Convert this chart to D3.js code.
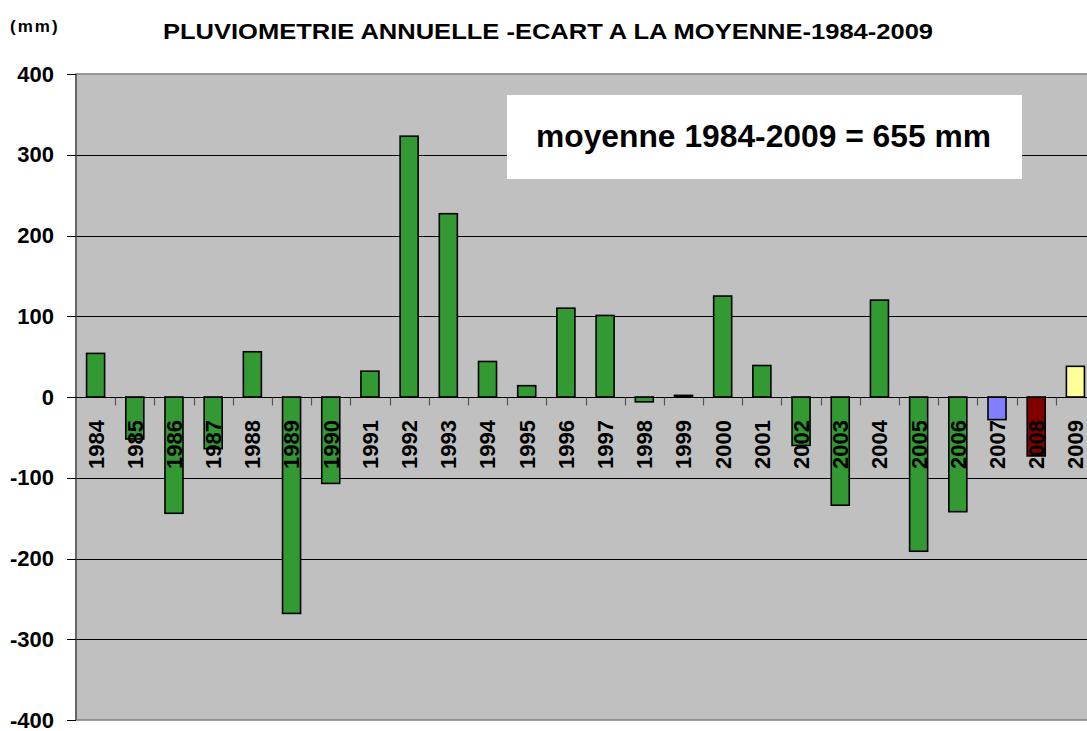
<!DOCTYPE html>
<meta charset="utf-8">
<style>
body { margin: 0; background: #fff; }
svg { display: block; font-family: "Liberation Sans", Arial, sans-serif; font-weight: bold; }
.grid line { stroke: #000; stroke-width: 1; shape-rendering: crispEdges; }
.y.axis path { display: none; }
.y.axis line { stroke: #000; shape-rendering: crispEdges; }
.y.axis text { font-size: 22px; font-weight: bold; fill: #000; }
.x.axis path, .x.axis line { display: none; }
.x.axis text { font-size: 22px; font-weight: bold; fill: #000; }
.bar { stroke: #000; stroke-width: 1.6; }
</style>
<body>
<script src="https://d3js.org/d3.v7.min.js"></script>
<script>
// data
var years = ["1984","1985","1986","1987","1988","1989","1990","1991","1992","1993",
             "1994","1995","1996","1997","1998","1999","2000","2001","2002","2003",
             "2004","2005","2006","2007","2008","2009"];
var ecart = [54, -52, -144, -64, 56, -268, -107, 32, 323, 227,
             44, 14, 110, 101, -6, 2, 125, 39, -60, -134,
             120, -191, -142, -28, -73, 38];
var yTicks = [-400, -300, -200, -100, 0, 100, 200, 300, 400];
var title = "PLUVIOMETRIE ANNUELLE -ECART A LA MOYENNE-1984-2009";
var unitLabel = "(mm)";
var noteText = "moyenne 1984-2009 = 655 mm";

// bar colours (last three years highlighted)
var colorFor = { "2007": "#8080ff", "2008": "#800000", "2009": "#ffff99" };
var defaultColor = "#339933";

var width = 1087, height = 731;
var plot = {left: 76, right: 1095, top: 74, bottom: 720};

var svg = d3.select("body").append("svg")
    .attr("width", width)
    .attr("height", height);

var x = d3.scaleBand()
    .domain(years)
    .range([plot.left, plot.right])
    .padding(0);

var y = d3.scaleLinear()
    .domain([-400, 400])
    .range([plot.bottom, plot.top]);

var barW = x.step() * 0.46;

// plot area
svg.append("rect")
    .attr("x", plot.left)
    .attr("y", y(400))
    .attr("width", plot.right - plot.left)
    .attr("height", y(-400) - y(400))
    .attr("fill", "#c0c0c0")
    .attr("stroke", "#808080")
    .attr("stroke-width", 1.5);

// gridlines
svg.append("g")
    .attr("class", "grid")
  .selectAll("line")
    .data(yTicks.filter(function(d) { return Math.abs(d) < 400; }))
  .enter().append("line")
    .attr("x1", plot.left)
    .attr("x2", plot.right)
    .attr("y1", function(d) { return Math.round(y(d)) + 0.5; })
    .attr("y2", function(d) { return Math.round(y(d)) + 0.5; });

// left axis line
svg.append("line")
    .attr("x1", plot.left).attr("x2", plot.left)
    .attr("y1", y(400)).attr("y2", y(-400))
    .attr("stroke", "#555").attr("stroke-width", 1.5);

// y axis (plain hyphen for negatives, like the original)
svg.append("g")
    .attr("class", "y axis")
    .attr("transform", "translate(" + plot.left + ",0)")
    .call(d3.axisLeft(y).tickValues(yTicks).tickSize(9).tickPadding(13)
        .tickFormat(function(d) { return String(d); }));

// bars
svg.append("g")
  .selectAll("rect")
    .data(years)
  .enter().append("rect")
    .attr("class", "bar")
    .attr("x", function(d) { return x(d) + (x.step() - barW) / 2; })
    .attr("width", barW)
    .attr("y", function(d, i) { return y(Math.max(0, ecart[i])); })
    .attr("height", function(d, i) { return Math.abs(y(ecart[i]) - y(0)); })
    .attr("fill", function(d) { return colorFor[d] || defaultColor; });

// zero line and category ticks
var zeroY = Math.round(y(0)) + 0.5;
svg.append("line")
    .attr("x1", plot.left).attr("x2", plot.right)
    .attr("y1", zeroY).attr("y2", zeroY)
    .attr("stroke", "#000").attr("stroke-width", 1.2);

svg.append("g")
  .selectAll("line")
    .data(years.slice(1))
  .enter().append("line")
    .attr("x1", function(d) { return Math.round(x(d)) + 0.5; })
    .attr("x2", function(d) { return Math.round(x(d)) + 0.5; })
    .attr("y1", zeroY)
    .attr("y2", zeroY + 8)
    .attr("stroke", "#555")
    .attr("stroke-width", 1.2);

// x labels, rotated, drawn over bars
svg.append("g")
    .attr("class", "x axis")
    .attr("transform", "translate(0," + y(0) + ")")
    .call(d3.axisBottom(x).tickSize(0))
  .selectAll("text")
    .attr("transform", "rotate(-90)")
    .attr("x", -23)
    .attr("y", 0)
    .attr("dy", "0.36em")
    .style("text-anchor", "end");

// title
svg.append("text")
    .attr("x", 163)
    .attr("y", 39)
    .attr("textLength", 770)
    .attr("lengthAdjust", "spacingAndGlyphs")
    .style("font-size", "22px")
    .text(title);

svg.append("text")
    .attr("x", 10)
    .attr("y", 32)
    .style("font-size", "17px")
    .style("letter-spacing", "2px")
    .text(unitLabel);

// mean annotation box
svg.append("rect")
    .attr("x", 507)
    .attr("y", 95)
    .attr("width", 515)
    .attr("height", 84)
    .attr("fill", "#fff");

svg.append("text")
    .attr("x", 536)
    .attr("y", 147)
    .attr("textLength", 455)
    .attr("lengthAdjust", "spacingAndGlyphs")
    .style("font-size", "31px")
    .text(noteText);
</script>
</body>
